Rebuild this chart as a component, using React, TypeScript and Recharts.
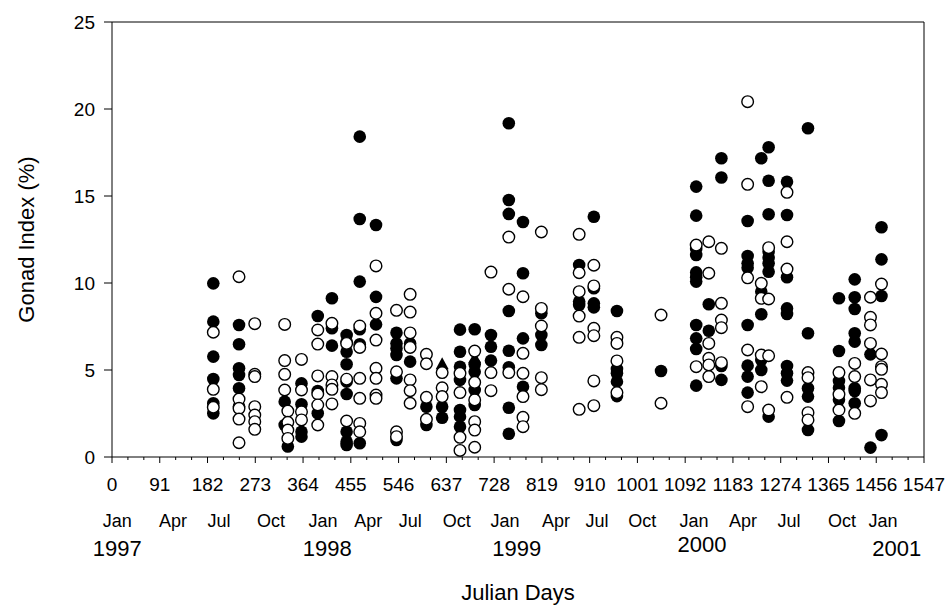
import { ScatterChart, Scatter, XAxis, YAxis, Label } from "recharts";

const FONT = "'Liberation Sans', Arial, sans-serif";

// x axis: julian days, majors every 91 days
const dayTicks = [0, 91, 182, 273, 364, 455, 546, 637, 728, 819, 910, 1001, 1092, 1183, 1274, 1365, 1456, 1547];
const gonadTicks = [0, 5, 10, 15, 20, 25];

// calendar labels under the day axis (day at label centre)
const monthDays = [10, 116, 204, 303, 402, 488, 568, 657, 749, 846, 924, 1010, 1109, 1202, 1290, 1391, 1469];
const monthNames = ["Jan", "Apr", "Jul", "Oct", "Jan", "Apr", "Jul", "Oct", "Jan", "Apr", "Jul", "Oct", "Jan", "Apr", "Jul", "Oct", "Jan"];
const yearDays = [10, 410, 771, 1124, 1495];
const yearNames = ["1997", "1998", "1999", "2000", "2001"];

// gonad index (%) per sampling day
const filledGI: [number, number[]][] = [
  [193, [9.98, 7.78, 5.77, 4.48, 3.09, 2.51]],
  [242, [7.59, 6.48, 5.1, 4.71, 3.95, 2.9]],
  [329, [3.18, 1.84]],
  [335, [0.6]],
  [361, [4.23, 3.03, 1.45, 1.17]],
  [392, [8.1, 3.79, 2.51]],
  [419, [9.12, 7.4, 6.4]],
  [447, [7.01, 6.63, 6.05, 5.33, 4.33, 3.62, 1.45, 0.88, 0.69]],
  [472, [18.41, 13.68, 10.08, 7.34, 6.48, 0.79]],
  [503, [13.33, 9.2, 7.62]],
  [542, [7.14, 6.53, 6.24, 5.86, 4.52, 0.98]],
  [568, [6.53, 5.48]],
  [599, [2.89, 1.84]],
  [629, [2.89, 2.26]],
  [663, [7.32, 6.05, 5.19, 4.43, 2.7, 2.32, 1.74]],
  [691, [7.34, 5.33, 4.9, 3.85, 2.99]],
  [722, [7.01, 6.34, 5.54]],
  [756, [19.18, 14.77, 13.97, 8.39, 6.11, 5.16, 2.83, 1.34]],
  [783, [13.51, 10.56, 6.82, 4.04]],
  [818, [8.26, 7.01, 6.44]],
  [890, [11.03, 8.93, 8.74]],
  [918, [13.81, 9.7, 8.83, 8.6]],
  [962, [8.39, 5.06, 4.81, 4.33, 3.5]],
  [1046, [4.94]],
  [1113, [15.54, 13.87, 11.95, 11.61, 10.61, 10.33, 10.08, 7.59, 6.82, 6.21, 4.1]],
  [1137, [8.78, 7.26]],
  [1161, [17.17, 16.06, 5.23, 4.43]],
  [1211, [13.56, 11.55, 11.13, 10.88, 7.59, 5.25, 4.62, 3.7]],
  [1237, [17.17, 9.5, 8.2, 5.57, 5.0]],
  [1251, [17.8, 15.88, 13.95, 11.8, 11.45, 11.13, 10.65, 2.32]],
  [1286, [15.82, 13.91, 10.33, 8.54, 8.22, 5.23, 4.81, 4.39]],
  [1326, [18.89, 7.11, 3.95, 3.47, 1.55]],
  [1385, [9.12, 6.09, 4.37, 3.98, 3.29, 2.07]],
  [1415, [10.21, 9.18, 8.51, 7.11, 6.63, 3.95, 3.79, 3.09]],
  [1445, [5.9, 0.54]],
  [1466, [13.2, 11.36, 9.25, 1.26]],
];

const openGI: [number, number[]][] = [
  [193, [7.17, 3.89, 2.86]],
  [242, [10.36, 3.33, 2.8, 2.18, 0.82]],
  [272, [7.66, 4.75, 4.62, 2.89, 2.41, 2.03, 1.59]],
  [329, [7.62, 5.54, 4.75, 3.85]],
  [335, [2.64, 1.99, 1.55, 1.07]],
  [361, [5.61, 3.85, 2.6, 2.13]],
  [392, [7.3, 6.49, 4.66, 3.62, 2.99, 1.84]],
  [419, [7.68, 4.62, 4.14, 3.89, 3.05]],
  [447, [6.53, 4.47, 2.07]],
  [472, [7.53, 6.3, 4.52, 3.37, 1.93, 1.45]],
  [503, [10.98, 8.26, 6.72, 5.1, 4.52, 3.56, 3.37]],
  [542, [8.43, 4.9, 1.45, 1.17]],
  [568, [9.35, 8.33, 7.13, 6.3, 4.43, 3.81, 3.09]],
  [599, [5.9, 5.36, 3.43, 2.17]],
  [629, [4.85, 3.98, 3.47]],
  [663, [4.81, 3.7, 1.13, 0.38]],
  [691, [6.09, 4.29, 3.28, 2.03, 1.55, 0.56]],
  [722, [10.63, 4.85, 3.81]],
  [756, [12.64, 9.64, 4.85]],
  [783, [9.21, 5.96, 4.81, 3.47, 2.28, 1.74]],
  [818, [12.93, 8.54, 7.53, 4.56, 3.87]],
  [890, [12.8, 10.59, 9.5, 8.1, 6.88, 2.74]],
  [918, [11.02, 9.83, 7.4, 6.97, 4.37, 2.95]],
  [962, [6.88, 6.53, 5.52, 3.7]],
  [1046, [8.16, 3.09]],
  [1113, [12.18, 5.19]],
  [1137, [12.37, 10.56, 6.53, 5.67, 5.29, 4.62]],
  [1161, [11.99, 8.83, 7.87, 7.43, 5.42]],
  [1211, [20.42, 15.67, 10.3, 6.15, 2.89]],
  [1237, [9.98, 9.12, 5.86, 4.04]],
  [1251, [12.03, 9.08, 5.82, 2.7]],
  [1286, [15.21, 12.37, 10.8, 3.43]],
  [1326, [4.85, 4.56, 2.55, 2.13]],
  [1385, [4.85, 3.6, 2.7]],
  [1415, [5.38, 4.62, 2.51]],
  [1445, [9.18, 8.03, 7.59, 6.53, 4.43, 3.22]],
  [1466, [9.94, 5.92, 5.19, 5.04, 4.18, 3.7]],
];

const triangleGI: [number, number[]][] = [
  [629, [5.33]],
  [691, [5.67]],
];

const toPoints = (rows: [number, number[]][]) =>
  rows.flatMap(([day, vals]) => vals.map((gi) => ({ day, gi })));

const filledPts = toPoints(filledGI);
const openPts = toPoints(openGI);
const triPts = toPoints(triangleGI);

// two minor ticks between each pair of majors
const allTicks = dayTicks.flatMap((t, i) =>
  i < dayTicks.length - 1 ? [t, t + 91 / 3, t + 182 / 3] : [t]
);

const DayTick = (props: any) => {
  const { x, y, payload } = props;
  const major = dayTicks.includes(payload.value);
  return (
    <g>
      <line x1={x} x2={x} y1={y} y2={y + (major ? 6 : 3)} stroke="#000" strokeWidth={1} />
      {major && (
        <text x={x} y={y + 27} textAnchor="middle" dominantBaseline="central" fontSize={19} fontFamily={FONT} fill="#000">
          {payload.value}
        </text>
      )}
    </g>
  );
};

const MonthTick = (props: any) => {
  const { x, y, index } = props;
  return (
    <text x={x} y={y + 14} textAnchor="middle" dominantBaseline="central" fontSize={18} fontFamily={FONT} fill="#000">
      {monthNames[index]}
    </text>
  );
};

const YearTick = (props: any) => {
  const { x, y, index } = props;
  const lift = yearNames[index] === "2000" ? 4 : 0;
  return (
    <text x={x} y={y + 13 - lift} textAnchor="middle" dominantBaseline="central" fontSize={22} fontFamily={FONT} fill="#000">
      {yearNames[index]}
    </text>
  );
};

const FilledDot = (p: any) => <circle cx={p.cx} cy={p.cy} r={6.3} fill="#000" />;
const OpenDot = (p: any) => (
  <circle cx={p.cx} cy={p.cy} r={5.8} fill="#fff" stroke="#000" strokeWidth={1.4} />
);
const TriDot = (p: any) => (
  <polygon
    points={`${p.cx},${p.cy - 7} ${p.cx - 6.5},${p.cy + 5} ${p.cx + 6.5},${p.cy + 5}`}
    fill="#000"
  />
);
const NoDot = () => <g />;

export default function App() {
  return (
    <div style={{ position: "absolute", left: 0, top: 0, background: "#fff" }}>
      <ScatterChart width={946} height={605} margin={{ top: 21, right: 21, bottom: 0, left: 0 }}>
        <XAxis
          dataKey="day"
          type="number"
          domain={[0, 1547]}
          ticks={allTicks}
          interval={0}
          height={50}
          tick={<DayTick />}
          tickLine={false}
          tickSize={0}
          tickMargin={0}
          axisLine={{ stroke: "#000" }}
          allowDataOverflow
        />
        <XAxis
          xAxisId="month"
          dataKey="day"
          type="number"
          domain={[0, 1547]}
          ticks={monthDays}
          interval={0}
          height={28}
          tick={<MonthTick />}
          tickLine={false}
          tickSize={0}
          tickMargin={0}
          axisLine={false}
          allowDataOverflow
        />
        <XAxis
          xAxisId="year"
          dataKey="day"
          type="number"
          domain={[0, 1547]}
          ticks={yearDays}
          interval={0}
          height={70}
          tick={<YearTick />}
          tickLine={false}
          tickSize={0}
          tickMargin={0}
          axisLine={false}
          allowDataOverflow
        >
          <Label
            content={(p: any) => {
              const vb = p.viewBox;
              return (
                <text x={vb.x + vb.width / 2} y={vb.y + 57} textAnchor="middle" dominantBaseline="central" fontSize={22} fontFamily={FONT} fill="#000">
                  Julian Days
                </text>
              );
            }}
          />
        </XAxis>
        <XAxis
          xAxisId="top"
          dataKey="day"
          orientation="top"
          type="number"
          domain={[0, 1547]}
          height={1}
          ticks={[0]}
          tick={false}
          tickLine={false}
          axisLine={{ stroke: "#000" }}
          allowDataOverflow
        />
        <YAxis
          dataKey="gi"
          type="number"
          domain={[0, 25]}
          ticks={gonadTicks}
          interval={0}
          width={112}
          tickSize={8}
          tickMargin={9}
          tick={{ fill: "#000", fontSize: 19, fontFamily: FONT }}
          tickLine={{ stroke: "#000" }}
          axisLine={{ stroke: "#000" }}
          allowDataOverflow
        >
          <Label
            content={(p: any) => {
              const vb = p.viewBox;
              const cx = vb.x + 26;
              const cy = vb.y + vb.height / 2;
              return (
                <text x={cx} y={cy} transform={`rotate(-90 ${cx} ${cy})`} textAnchor="middle" dominantBaseline="central" fontSize={22} fontFamily={FONT} fill="#000">
                  Gonad Index (%)
                </text>
              );
            }}
          />
        </YAxis>
        <YAxis
          yAxisId="right"
          dataKey="gi"
          orientation="right"
          type="number"
          domain={[0, 25]}
          width={1}
          ticks={[0]}
          tick={false}
          tickLine={false}
          axisLine={{ stroke: "#000" }}
          allowDataOverflow
        />
        {/* invisible series so the calendar rows and frame axes get drawn */}
        <Scatter xAxisId="month" data={filledPts} shape={NoDot} isAnimationActive={false} />
        <Scatter xAxisId="year" data={filledPts} shape={NoDot} isAnimationActive={false} />
        <Scatter xAxisId="top" yAxisId="right" data={filledPts} shape={NoDot} isAnimationActive={false} />
        <Scatter data={filledPts} shape={FilledDot} isAnimationActive={false} />
        <Scatter data={triPts} shape={TriDot} isAnimationActive={false} />
        <Scatter data={openPts} shape={OpenDot} isAnimationActive={false} />
      </ScatterChart>
    </div>
  );
}
